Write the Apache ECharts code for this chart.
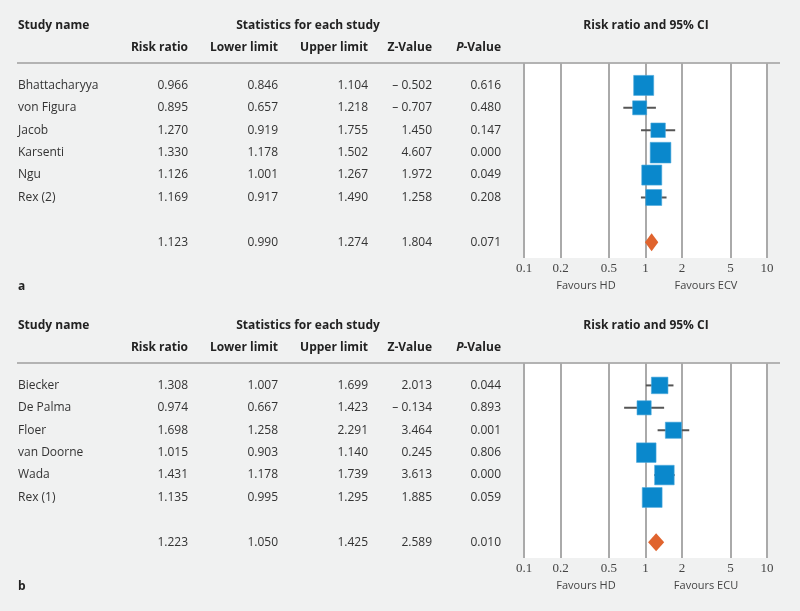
<!DOCTYPE html>
<html>
<head>
<meta charset="utf-8">
<title>Forest plots</title>
<script src="https://cdn.jsdelivr.net/npm/echarts@6/dist/echarts.min.js"></script>
<style>
  html, body { margin: 0; padding: 0; background: #f0f1f1; }
  #chart { width: 800px; height: 611px; }
</style>
</head>
<body>
<div id="chart"></div>
<script>
// panel a
var namesA = ['Bhattacharyya', 'von Figura', 'Jacob', 'Karsenti', 'Ngu', 'Rex (2)'];
var rrA = [0.966, 0.895, 1.270, 1.330, 1.126, 1.169];
var loA = [0.846, 0.657, 0.919, 1.178, 1.001, 0.917];
var hiA = [1.104, 1.218, 1.755, 1.502, 1.267, 1.490];
var zA = [-0.502, -0.707, 1.450, 4.607, 1.972, 1.258];
var pA = [0.616, 0.480, 0.147, 0.000, 0.049, 0.208];
var weightA = [21.2, 10.4, 11.1, 22.6, 21.2, 13.5]; // relative weight
var summaryA = [1.123, 0.990, 1.274, 1.804, 0.071]; // rr, lower, upper, z, p

// panel b
var namesB = ['Biecker', 'De Palma', 'Floer', 'van Doorne', 'Wada', 'Rex (1)'];
var rrB = [1.308, 0.974, 1.698, 1.015, 1.431, 1.135];
var loB = [1.007, 0.667, 1.258, 0.903, 1.178, 0.995];
var hiB = [1.699, 1.423, 2.291, 1.140, 1.739, 1.295];
var zB = [2.013, -0.134, 3.464, 0.245, 3.613, 1.885];
var pB = [0.044, 0.893, 0.001, 0.806, 0.000, 0.059];
var weightB = [14.5, 10.6, 13.8, 20.2, 20.2, 20.8];
var summaryB = [1.223, 1.050, 1.425, 2.589, 0.010];

var tickValues = [0.1, 0.2, 0.5, 1, 2, 5, 10];
var tickLabels = ['0.1', '0.2', '0.5', '1', '2', '5', '10'];

var FONT = '"Open Sans", "Noto Sans", sans-serif';
var colRight = [188, 278, 368, 432, 501]; // right edges of the number columns
var BLUE = '#0a88cc', DIAMOND = '#e0642e', CI = '#555';

function fmt(v) {
  return v < 0 ? '\u2013 ' + Math.abs(v).toFixed(3) : v.toFixed(3);
}

function lg(v) { return Math.log10(v); }

function buildPanel(idx, top, names, rr, lo, hi, z, p, w, summary) {
  var studies = names.map(function (n, i) {
    return [i, rr[i], lo[i], hi[i], w[i]];
  });
  var tableRows = names.map(function (n, i) {
    return { value: [i], cells: [n, fmt(rr[i]), fmt(lo[i]), fmt(hi[i]), fmt(z[i]), fmt(p[i])] };
  });
  tableRows.push({ value: [7], cells: [''].concat(summary.map(fmt)) });

  var grid = { left: 524, width: 243, top: top, height: 195, show: true,
    backgroundColor: '#fff', borderWidth: 0 };
  var xAxis = {
    gridIndex: idx, type: 'value', min: -1, max: 1,
    axisLine: { show: false },
    axisTick: { show: false, customValues: tickValues.map(lg) },
    splitLine: { show: true, lineStyle: { color: '#aaa', width: 2 } },
    axisLabel: {
      customValues: tickValues.map(lg), margin: 4,
      fontFamily: '"Liberation Serif", serif', fontSize: 13, color: '#444',
      formatter: function (v) {
        var i = tickValues.findIndex(function (t) { return Math.abs(lg(t) - v) < 1e-6; });
        return i >= 0 ? tickLabels[i] : '';
      }
    }
  };
  var yAxis = { gridIndex: idx, type: 'value', inverse: true, min: -1, max: 7.7, show: false };

  var series = [
    {
      type: 'custom', xAxisIndex: idx, yAxisIndex: idx, clip: false,
      data: tableRows,
      renderItem: function (params, api) {
        var row = tableRows[params.dataIndex];
        var y = api.coord([0, api.value(0)])[1];
        var kids = [{ type: 'text', x: 18, y: y,
          style: { text: row.cells[0], fill: '#333', font: '12px ' + FONT,
            textAlign: 'left', textVerticalAlign: 'middle', align: 'left', verticalAlign: 'middle' } }];
        for (var c = 1; c < row.cells.length; c++) {
          kids.push({ type: 'text', x: colRight[c - 1], y: y,
            style: { text: row.cells[c], fill: '#333', font: '12px ' + FONT,
              textAlign: 'right', textVerticalAlign: 'middle', align: 'right', verticalAlign: 'middle' } });
        }
        return { type: 'group', children: kids };
      }
    },
    {
      type: 'custom', xAxisIndex: idx, yAxisIndex: idx, clip: false,
      data: studies,
      renderItem: function (params, api) {
        var row = api.value(0);
        var c = api.coord([lg(api.value(1)), row]);
        var a = api.coord([lg(api.value(2)), row]);
        var b = api.coord([lg(api.value(3)), row]);
        var s = 4.35 * Math.sqrt(api.value(4));
        return { type: 'group', children: [
          { type: 'line', shape: { x1: a[0], y1: a[1], x2: b[0], y2: b[1] },
            style: { stroke: CI, lineWidth: 2 } },
          { type: 'rect', shape: { x: c[0] - s / 2, y: c[1] - s / 2, width: s, height: s },
            style: { fill: BLUE, stroke: '#4aa7dc', lineWidth: 0.6 } }
        ] };
      }
    },
    {
      type: 'custom', xAxisIndex: idx, yAxisIndex: idx, clip: false,
      data: [[7, summary[0], summary[1], summary[2]]],
      renderItem: function (params, api) {
        var row = api.value(0);
        var c = api.coord([lg(api.value(1)), row]);
        var a = api.coord([lg(api.value(2)), row]);
        var b = api.coord([lg(api.value(3)), row]);
        var h = 9;
        return { type: 'polygon',
          shape: { points: [[a[0], c[1]], [c[0], c[1] - h], [b[0], c[1]], [c[0], c[1] + h]] },
          style: { fill: DIAMOND } };
      }
    }
  ];
  return { grid: grid, xAxis: xAxis, yAxis: yAxis, series: series };
}

var pa = buildPanel(0, 63, namesA, rrA, loA, hiA, zA, pA, weightA, summaryA);
var pb = buildPanel(1, 363, namesB, rrB, loB, hiB, zB, pB, weightB, summaryB);

function txt(x, y, s, opt) {
  opt = opt || {};
  return { type: 'text', x: x, y: y, silent: true,
    style: { text: s, fill: opt.fill || '#222',
      font: (opt.bold ? 'bold ' : '') + (opt.size || 12) + 'px ' + (opt.family || FONT),
      textAlign: opt.align || 'left', textVerticalAlign: 'middle',
      align: opt.align || 'left', verticalAlign: 'middle' } };
}

function headers(dy, favRight, letter) {
  var b = { bold: true };
  return [
    txt(18, 26 + dy, 'Study name', b),
    txt(308, 26 + dy, 'Statistics for each study', { bold: true, align: 'center' }),
    txt(646, 26 + dy, 'Risk ratio and 95% CI', { bold: true, align: 'center' }),
    txt(colRight[0], 48 + dy, 'Risk ratio', { bold: true, align: 'right' }),
    txt(colRight[1], 48 + dy, 'Lower limit', { bold: true, align: 'right' }),
    txt(colRight[2], 48 + dy, 'Upper limit', { bold: true, align: 'right' }),
    txt(colRight[3], 48 + dy, 'Z-Value', { bold: true, align: 'right' }),
    { type: 'text', x: colRight[4], y: 48 + dy, silent: true,
      style: { text: '{i|P}-Value', fill: '#222', font: 'bold 12px ' + FONT,
        textAlign: 'right', textVerticalAlign: 'middle', align: 'right', verticalAlign: 'middle',
        rich: { i: { fontStyle: 'italic', fontWeight: 'bold', fontSize: 12, fontFamily: FONT, fill: '#222' } } } },
    { type: 'line', silent: true, shape: { x1: 17, y1: 63 + dy, x2: 780, y2: 63 + dy },
      style: { stroke: '#b3b3b3', lineWidth: 2 } },
    txt(586, 286 + dy, 'Favours HD', { size: 11, align: 'center', fill: '#444' }),
    txt(706, 286 + dy, favRight, { size: 11, align: 'center', fill: '#444' }),
    txt(18, 287 + dy, letter, { bold: true })
  ];
}

var chart = echarts.init(document.getElementById('chart'));
chart.setOption({
  backgroundColor: '#f0f1f1',
  animation: false,
  grid: [pa.grid, pb.grid],
  xAxis: [pa.xAxis, pb.xAxis],
  yAxis: [pa.yAxis, pb.yAxis],
  series: pa.series.concat(pb.series),
  graphic: headers(0, 'Favours ECV', 'a').concat(headers(300, 'Favours ECU', 'b'))
});
</script>
</body>
</html>
